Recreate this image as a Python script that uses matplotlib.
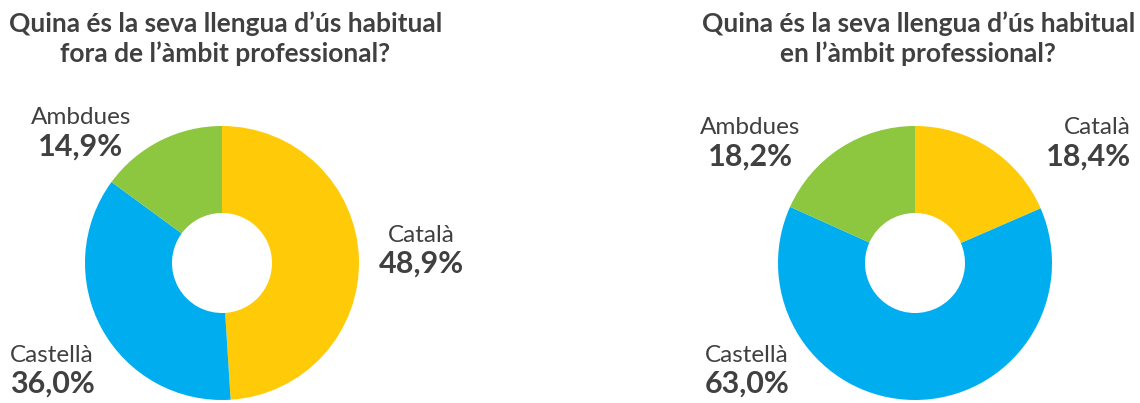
import matplotlib
matplotlib.use('Agg')
from matplotlib import pyplot as plt

categories = ['Català', 'Castellà', 'Ambdues']
fora_values = [48.9, 36.0, 14.9]
en_values = [18.4, 63.0, 18.2]
titles = ["Quina és la seva llengua d’ús habitual\nfora de l’àmbit professional?",
          "Quina és la seva llengua d’ús habitual\nen l’àmbit professional?"]

colors = ['#FFCB08', '#00AEEF', '#8DC63F']
text_color = '#404040'
plt.rcParams['font.family'] = ['Lato', 'DejaVu Sans']

W, H = 1140, 403
fig = plt.figure(figsize=(W / 100, H / 100), dpi=100)

R = 137
def donut_axes(cx, cy):
	return fig.add_axes([(cx - R) / W, (H - cy - R) / H, 2 * R / W, 2 * R / H])

def fmt(v):
	return '{:.1f}%'.format(v).replace('.', ',')

def put_label(ax, x, y, name, value, ha):
	# x, y in pixel offsets from donut centre (y down)
	ax.text(x / R, -y / R, name, ha=ha, va='center', fontsize=17.5, color=text_color, clip_on=False)
	ax.text(x / R, -(y + 29) / R, fmt(value), ha=ha, va='center', fontsize=22, fontweight='bold',
		color=text_color, clip_on=False)

def draw(cx, cy, values, title, label_pos):
	ax = donut_axes(cx, cy)
	ax.pie(values, colors=colors, startangle=90, counterclock=False,
		wedgeprops=dict(width=0.635, edgecolor='none'), radius=1)
	ax.set_xlim(-1, 1)
	ax.set_ylim(-1, 1)
	ax.set_aspect('equal')
	ax.axis('off')
	fig.text(cx / W + 0.003, 1 - 39 / H, title, ha='center', va='center', fontsize=19,
		fontweight='bold', color=text_color, linespacing=1.25)
	for name, value, (x, y, ha) in zip(categories, values, label_pos):
		put_label(ax, x, y, name, value, ha)

draw(222, 263, fora_values, titles[0],
	[(199, -28, 'center'), (-212, 92, 'left'), (-141, -145, 'center')])
draw(915, 263, en_values, titles[1],
	[(216, -135, 'right'), (-210, 92, 'left'), (-165, -135, 'center')])

fig.savefig('out.png', dpi=100)
